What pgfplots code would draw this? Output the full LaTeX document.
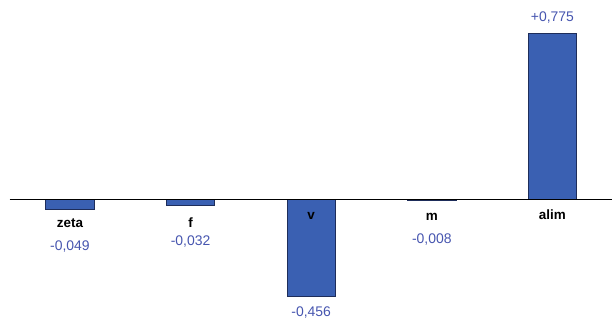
\documentclass[border=0pt]{standalone}
\usepackage{pgfplots}
\pgfplotsset{compat=1.18}
\usepackage{fontspec}
\setmainfont{Liberation Sans}
\definecolor{barblue}{RGB}{58,96,178}
\definecolor{baredge}{RGB}{30,45,90}
\definecolor{valblue}{RGB}{70,85,175}
\begin{document}
\begin{tikzpicture}
\begin{axis}[
  at={(0,0)}, anchor=south west,
  scale only axis, width=612bp, height=324bp,
  xmin=-0.58, xmax=4.494, ymin=-0.584, ymax=0.930,
  hide axis, clip=false,
  ybar, bar width=0.4, bar shift=0pt,
]
\addplot[fill=barblue, draw=baredge, line width=0.8pt] coordinates {
  (0,-0.049) (1,-0.032) (2,-0.456) (3,-0.008) (4,0.775)};
\draw[black, line width=0.8pt] (axis cs:-0.5,0) -- (axis cs:4.494,0);
\begin{scope}[font=\fontsize{14}{16}\selectfont]
\node[font=\fontsize{13.5}{15}\selectfont\bfseries] at (axis cs:0,-0.112) {zeta};
\node[font=\fontsize{13.5}{15}\selectfont\bfseries] at (axis cs:1,-0.112) {f};
\node[font=\fontsize{13.5}{15}\selectfont\bfseries] at (axis cs:2,-0.080) {v};
\node[font=\fontsize{13.5}{15}\selectfont\bfseries] at (axis cs:3,-0.085) {m};
\node[font=\fontsize{13.5}{15}\selectfont\bfseries] at (axis cs:4,-0.075) {alim};
\node[text=valblue] at (axis cs:0,-0.220) {-0,049};
\node[text=valblue] at (axis cs:1,-0.200) {-0,032};
\node[text=valblue] at (axis cs:2,-0.532) {-0,456};
\node[text=valblue] at (axis cs:3,-0.190) {-0,008};
\node[text=valblue] at (axis cs:4,0.846) {+0,775};
\end{scope}
\end{axis}
\pgfresetboundingbox
\useasboundingbox (0,0) rectangle (612bp,324bp);
\end{tikzpicture}
\end{document}
